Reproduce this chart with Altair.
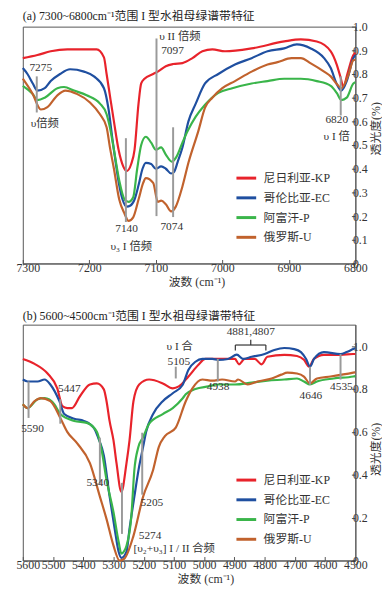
import altair as alt
import pandas as pd

SERIES = ["尼日利亚-KP", "哥伦比亚-EC", "阿富汗-P", "俄罗斯-U"]
COLORS = ["#e8232b", "#1f4fa0", "#3ab54a", "#c1622d"]
FONT = "Liberation Serif, Noto Sans CJK SC, serif"

# ---------------- panel (a): 7300-6800 cm-1 ----------------
a_kp = [(7300,.867),(7278,.88),(7258,.896),(7233,.904),(7189,.904),(7178,.87),(7174,.80),(7168,.69),
        (7163,.60),(7156,.48),(7149,.41),(7144,.39),(7137,.42),(7132,.48),(7126,.675),(7122,.76),
        (7117,.78),(7104,.80),(7097,.81),(7085,.833),(7074,.842),(7060,.846),(7045,.867),(7030,.896),
        (7015,.904),(6996,.896),(6956,.908),(6907,.9375),(6882,.946),(6858,.9375),(6837,.896),
        (6828,.84),(6822,.783),(6818,.745),(6812,.80),(6803,.88),(6800,.89)]
a_ec = [(7300,.825),(7293,.80),(7285,.76),(7278,.73),(7267,.74),(7258,.77),(7244,.80),(7229,.82),
        (7208,.81),(7193,.79),(7178,.74),(7171,.65),(7165,.52),(7160,.42),(7155,.33),(7150,.27),
        (7144,.24),(7138,.245),(7132,.27),(7126,.33),(7120,.40),(7115,.425),(7107,.42),(7100,.40),
        (7092,.41),(7085,.40),(7077,.38),(7073,.385),(7067,.43),(7060,.49),(7051,.60),(7040,.675),
        (7026,.76),(7006,.80),(6981,.84),(6956,.867),(6932,.896),(6907,.908),(6888,.925),(6867,.908),
        (6847,.867),(6837,.825),(6828,.758),(6821,.73),(6813,.77),(6803,.867),(6800,.88)]
a_p = [(7300,.75),(7285,.715),(7278,.69),(7267,.70),(7248,.74),(7238,.745),(7223,.73),(7204,.71),
       (7184,.675),(7174,.63),(7168,.56),(7163,.48),(7155,.35),(7147,.27),(7141,.26),(7134,.28),
       (7128,.40),(7122,.50),(7115,.535),(7107,.51),(7100,.48),(7092,.49),(7085,.46),(7076,.43),
       (7069,.45),(7060,.51),(7052,.56),(7040,.62),(7026,.67),(7006,.72),(6985,.74),(6956,.76),
       (6932,.77),(6907,.78),(6882,.78),(6858,.77),(6837,.75),(6828,.72),(6821,.69),(6813,.70),
       (6803,.76),(6800,.765)]
a_u = [(7300,.78),(7285,.715),(7273,.65),(7263,.66),(7248,.71),(7236,.73),(7218,.715),(7199,.68),
       (7184,.63),(7174,.575),(7169,.49),(7163,.40),(7155,.27),(7147,.21),(7141,.18),(7134,.195),
       (7126,.27),(7119,.34),(7115,.36),(7104,.34),(7097,.26),(7092,.265),(7085,.25),(7077,.22),
       (7070,.24),(7060,.325),(7051,.425),(7036,.56),(7026,.658),(7015,.70),(7000,.74),(6981,.77),
       (6956,.81),(6932,.84),(6917,.85),(6896,.867),(6882,.867),(6867,.845),(6847,.81),(6837,.79),
       (6828,.758),(6821,.74),(6810,.80),(6803,.858),(6800,.86)]

a_rule_w = [7279, 7145, 7099, 7074, 6822]
a_rule_lo = [0.6375, 0.175, 0.20, 0.196, 0.625]
a_rule_hi = [0.79, 0.529, 0.95, 0.575, 0.79]

a_lab_c = [("7275", 7273, .825), ("υ倍频", 7267, .59), ("7140", 7144, .146),
           ("υ₃ I 倍频", 7137, .071), ("7074", 7076, .154), ("6820", 6828, .604),
           ("υ I 倍", 6828, .533)]
a_lab_l = [("υ II 倍频", 7095, .958), ("7097", 7092, .896)]

# ---------------- panel (b): 5600-4500 cm-1 ----------------
b_kp = [(5600,.94),(5561,.917),(5518,.872),(5486,.803),(5469,.72),(5453,.711),(5437,.711),(5411,.766),
        (5378,.821),(5355,.826),(5332,.798),(5323,.743),(5313,.651),(5300,.56),(5290,.454),(5274,.32),
        (5257,.454),(5247,.56),(5234,.743),(5215,.821),(5182,.844),(5137,.826),(5104,.803),(5084,.812),
        (5052,.858),(5019,.913),(4996,.94),(4954,.94),(4898,.94),(4885,.915),(4866,.94),(4833,.94),
        (4810,.915),(4791,.95),(4735,.959),(4693,.954),(4670,.936),(4653,.904),(4637,.94),(4604,.959),
        (4549,.959),(4507,.963),(4500,.963)]
b_ec = [(5600,.844),(5584,.835),(5551,.835),(5528,.844),(5509,.821),(5479,.743),(5463,.683),(5430,.661),
        (5398,.651),(5365,.619),(5350,.57),(5332,.49),(5313,.30),(5296,.147),(5283,.041),(5274,.012),
        (5257,.041),(5247,.147),(5231,.298),(5215,.44),(5202,.53),(5192,.60),(5169,.683),(5137,.743),
        (5104,.78),(5071,.82),(5052,.89),(5029,.927),(5006,.94),(4973,.94),(4954,.936),(4921,.94),
        (4892,.96),(4872,.94),(4843,.95),(4800,.963),(4768,.982),(4735,.991),(4702,.986),(4680,.972),
        (4663,.94),(4650,.904),(4637,.94),(4604,.972),(4549,.963),(4529,.972),(4507,.986),(4500,.99)]
b_p = [(5600,.729),(5584,.711),(5551,.752),(5528,.757),(5496,.729),(5476,.683),(5430,.651),(5388,.642),
       (5355,.60),(5340,.52),(5323,.376),(5300,.225),(5283,.087),(5274,.032),(5264,.045),(5257,.069),
       (5241,.206),(5231,.422),(5218,.528),(5202,.575),(5182,.638),(5137,.683),(5104,.711),(5071,.757),
       (5061,.775),(5029,.80),(4986,.812),(4954,.821),(4898,.821),(4843,.83),(4791,.839),(4735,.844),
       (4693,.849),(4670,.835),(4650,.821),(4627,.835),(4572,.849),(4507,.858),(4500,.86)]
b_u = [(5600,.729),(5584,.711),(5561,.743),(5541,.757),(5509,.743),(5476,.665),(5453,.60),(5420,.546),
       (5378,.454),(5345,.298),(5323,.193),(5300,.069),(5280,.0),(5264,.009),(5234,.115),(5202,.298),
       (5169,.422),(5150,.53),(5130,.58),(5094,.62),(5061,.743),(5039,.803),(5006,.844),(4973,.839),
       (4941,.844),(4898,.835),(4888,.844),(4856,.821),(4823,.835),(4777,.849),(4745,.867),(4725,.876),
       (4693,.872),(4670,.858),(4650,.826),(4627,.849),(4582,.858),(4507,.876),(4500,.878)]

b_rule_w = [5581, 5476, 5345, 5205, 5272, 5094, 4955, 4650, 4549]
b_rule_lo = [0.665, 0.638, 0.353, 0.307, 0.124, 0.849, 0.835, 0.82, 0.844]
b_rule_hi = [0.835, 0.752, 0.573, 0.596, 0.362, 0.904, 0.94, 0.904, 0.963]

# bracket over 4881,4807: (w, w2, v, v2)
b_brk = [(4897, 4796, 1.005, 1.005), (4897, 4897, 0.98, 1.005),
         (4796, 4796, 0.98, 1.005), (4846, 4846, 1.005, 1.03)]

b_lab_c = [("5590", 5568, .615), ("5447", 5446, .80), ("5340", 5352, .36), ("5205", 5173, .27),
           ("5274", 5179, .115), ("5105", 5084, .927), ("υ I 合", 5081, .995),
           ("4938", 4954, .81), ("4881,4807", 4846, 1.064), ("4646", 4647, .766),
           ("4535", 4546, .807)]
b_lab_l = [("[υ₂+υ₃] I / II 合频", 5234, .055)]


def curves_df(groups):
    rows = []
    for name, pts in zip(SERIES, groups):
        for w, v in pts:
            rows.append({"w": w, "v": v, "s": name})
    return pd.DataFrame(rows)


def panel(groups, rw, rlo, rhi, brk, lab_c, lab_l, xdom, xticks, first, ydom, yticks,
          height, title, title_off, xtitle_x, ytitle_y, leg_y):
    xs = alt.Scale(domain=xdom, reverse=True, nice=False, zero=False)
    ys = alt.Scale(domain=ydom, nice=False, zero=False)
    xaxis = alt.Axis(
        values=xticks, format="d", title="波数 (cm⁻¹)", labelFlush=False, labelOverlap=False,
        labelAlign={"condition": {"test": f"datum.value == {first}", "value": "left"}, "value": "center"},
        labelOffset={"condition": {"test": f"datum.value == {first}", "value": -7}, "value": 0},
        tickSize={"expr": "-4"}, labelPadding=3, titleX=xtitle_x, titleAlign="center",
        titlePadding=3,
    )
    yaxis = alt.Axis(
        orient="right", values=yticks, title="透光度(%)", titleAngle=270, titleBaseline="top",
        labelExpr="datum.value == 0 ? '0' : format(datum.value, '.1f')", labelOverlap=False,
        tickSize={"expr": "-4"}, labelPadding=1, titleY=ytitle_y, titlePadding=3,
    )
    X = lambda: alt.X("w:Q", scale=xs, axis=xaxis)
    Y = lambda: alt.Y("v:Q", scale=ys, axis=yaxis)
    base = alt.Chart(curves_df(groups))
    lines = base.mark_line(strokeWidth=2.2, interpolate="monotone").encode(
        x=X(), y=Y(),
        color=alt.Color(
            "s:N", scale=alt.Scale(domain=SERIES, range=COLORS),
            legend=alt.Legend(
                orient="none", legendX=215, legendY=leg_y, title=None, symbolType="stroke",
                symbolSize=400, symbolStrokeWidth=3, labelFont=FONT, labelFontSize=12,
                labelColor="#333", rowPadding=2, padding=0, labelOffset=6,
            ),
        ),
    )
    rdf = pd.DataFrame({"w": rw, "v": rlo, "v2": rhi})
    rules = alt.Chart(rdf).mark_rule(color="#9a9a9a", strokeWidth=2).encode(
        x=X(), y=Y(), y2="v2:Q")
    layers = [lines, rules]
    if brk:
        bdf = pd.DataFrame(brk, columns=["w", "w2", "v", "v2"])
        layers.append(alt.Chart(bdf).mark_rule(color="#333", strokeWidth=1.2).encode(
            x=X(), x2="w2:Q", y=Y(), y2="v2:Q"))
    cdf = pd.DataFrame(lab_c, columns=["t", "w", "v"])
    layers.append(alt.Chart(cdf).mark_text(font=FONT, fontSize=11.5, color="#333",
                                           align="center", baseline="middle").encode(
        x=X(), y=Y(), text="t:N"))
    ldf = pd.DataFrame(lab_l, columns=["t", "w", "v"])
    layers.append(alt.Chart(ldf).mark_text(font=FONT, fontSize=11.5, color="#333",
                                           align="left", baseline="middle").encode(
        x=X(), y=Y(), text="t:N"))
    return alt.layer(*layers).properties(
        width=337, height=height,
        title=alt.TitleParams(text=title, anchor="start", frame="group", font=FONT,
                              fontSize=12, fontWeight="normal", color="#222", offset=title_off),
    )


top = panel([a_kp, a_ec, a_p, a_u], a_rule_w, a_rule_lo, a_rule_hi, None, a_lab_c, a_lab_l,
            [6800, 7300], [7300, 7200, 7100, 7000, 6900, 6800], 7300, [0, 1.0],
            [round(i * 0.1, 1) for i in range(11)], 240,
            "(a) 7300~6800cm⁻¹范围 I 型水祖母绿谱带特征", -2, 176, 103, 142)
bottom = panel([b_kp, b_ec, b_p, b_u], b_rule_w, b_rule_lo, b_rule_hi, b_brk, b_lab_c, b_lab_l,
               [4500, 5600], [5600, 5500, 5400, 5300, 5200, 5100, 5000, 4900, 4800, 4700, 4600, 4500],
               5600, [0, 1.1], [0, 0.2, 0.4, 0.6, 0.8, 1.0], 239,
               "(b) 5600~4500cm⁻¹范围 I 型水祖母绿谱带特征", 2, 185, 126, 146)

chart = alt.vconcat(top, bottom, spacing=21).resolve_scale(color="independent").resolve_legend(
    color="independent").properties(
    padding={"left": 7, "top": -3, "right": 0, "bottom": 0}
).configure_view(stroke="#555", strokeWidth=1).configure_axis(
    labelFont=FONT, labelFontSize=12, labelColor="#333", titleFont=FONT, titleFontSize=12,
    titleFontWeight="normal", titleColor="#333", domainColor="#555", tickColor="#555",
    grid=False, labelOverlap=False,
)

chart.save("out.html", embed_options={"renderer": "svg", "actions": False})
